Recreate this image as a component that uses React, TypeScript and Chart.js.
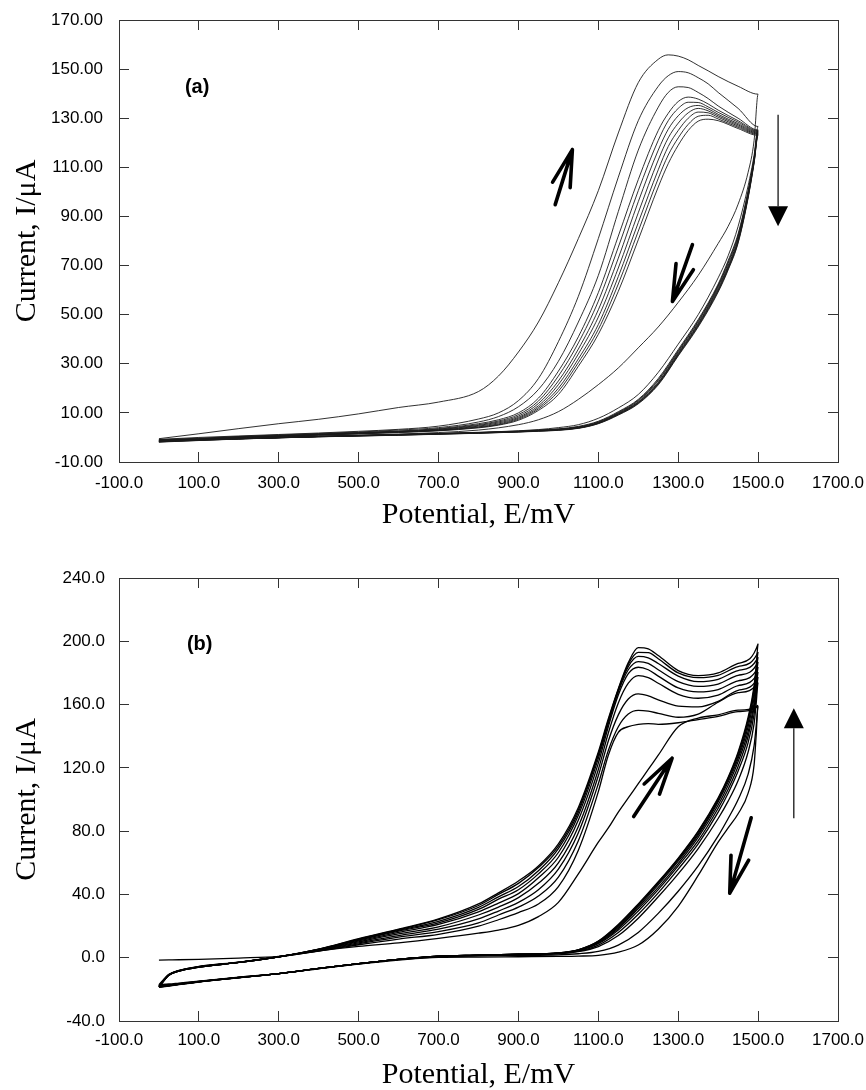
import { useEffect, useRef } from 'react';
import { Chart, registerables } from 'chart.js';

Chart.register(...registerables);

// ---------------- axis ticks ----------------
const xTickValues = [-100, 100, 300, 500, 700, 900, 1100, 1300, 1500, 1700];
const yTickValuesA = [-10, 10, 30, 50, 70, 90, 110, 130, 150, 170];
const yTickValuesB = [-40, 0, 40, 80, 120, 160, 200, 240];

// ---------------- panel (a) ----------------
const forwardPotentialA = [0, 100, 200, 300, 400, 500, 600, 700, 800, 850, 900, 950, 1000, 1050, 1100, 1150, 1200, 1250, 1275, 1300, 1325, 1350, 1375, 1400, 1450, 1500];
const reversePotentialA = [1490, 1475, 1450, 1425, 1400, 1350, 1300, 1250, 1200, 1150, 1100, 1050, 1000, 950, 900, 800, 700, 600, 400, 200, 0];

const forwardCurrentA = [
  [-0.5, 1.5, 3.6, 5.6, 7.4, 9.6, 12.2, 14.4, 18.7, 25, 34.8, 47, 63, 81, 100.5, 124, 144.5, 154, 155.8, 155.3, 153.8, 151.5, 149.3, 147, 143, 139.8],
  [-0.8, 0, 0.6, 1.2, 1.8, 2.5, 3.3, 4.6, 7.5, 10, 15, 24, 39, 57.5, 81, 106, 129, 143, 147.3, 149, 148.5, 146.5, 144, 140.5, 134, 126.6],
  [-1, -0.3, 0.4, 1.0, 1.6, 2.2, 3.0, 4.0, 6.3, 8.5, 12.5, 19.5, 31, 47, 66, 92, 117, 134.5, 140.5, 142.8, 142.5, 140.5, 138, 135, 130, 125.2],
  [-1.2, -0.5, 0.3, 0.8, 1.4, 2.0, 2.6, 3.6, 5.6, 7.2, 10, 16, 27, 41, 59, 82, 105, 125, 132, 136.8, 138.6, 137.8, 135.8, 133.3, 129, 124.9],
  [-1.3, -0.6, 0.2, 0.7, 1.3, 1.9, 2.5, 3.4, 5.2, 6.7, 9.3, 14.8, 25, 38.5, 55.5, 77.5, 100.5, 121, 129, 134, 136.5, 136.4, 134.6, 132.4, 128.4, 124.6],
  [-1.4, -0.7, 0.1, 0.6, 1.2, 1.8, 2.4, 3.2, 4.9, 6.3, 8.7, 13.8, 23, 36, 52, 73, 96, 117, 125.5, 131, 134.3, 135.2, 133.8, 131.6, 127.8, 124.3],
  [-1.5, -0.8, 0.1, 0.5, 1.1, 1.7, 2.3, 3.0, 4.6, 5.9, 8.2, 12.9, 21.5, 34, 49, 69, 91.5, 113, 122, 128, 132.2, 134, 133, 131, 127.3, 124],
  [-1.6, -0.8, 0, 0.4, 1.0, 1.6, 2.2, 2.9, 4.3, 5.5, 7.8, 12.2, 20, 32, 46, 65.5, 87.5, 109, 118.5, 125, 130, 132.5, 132.2, 130.4, 126.8, 123.7],
  [-1.7, -0.9, 0, 0.4, 1.0, 1.5, 2.1, 2.8, 4.1, 5.2, 7.4, 11.6, 18.8, 30.5, 44, 62.5, 84, 105.5, 115, 122, 127.5, 130.8, 131.2, 129.7, 126.3, 123.4],
  [-1.8, -1.0, -0.1, 0.3, 0.9, 1.4, 2.0, 2.7, 3.9, 5.0, 7.0, 11, 17.5, 29, 42, 59.5, 80.5, 102, 111.5, 119, 125, 128.8, 129.6, 129, 125.8, 123],
];

const reverseCurrentA = [
  [121, 108, 95, 86, 79, 66, 55, 45, 36.5, 28.3, 21.5, 15.5, 10.5, 7.2, 5.2, 3.0, 2.0, 1.4, 0.4, -0.4, -0.8],
  [115, 102.5, 86, 74, 65, 50, 38, 26.5, 17.5, 12, 7.8, 5.2, 4, 3.2, 2.7, 2.1, 1.6, 1.2, 0.4, -0.5, -1.0],
  [114, 100.5, 83, 72, 62.5, 48, 35.8, 24, 15.5, 10.5, 6.6, 4.5, 3.5, 3.0, 2.6, 2.0, 1.6, 1.2, 0.4, -0.5, -1.2],
  [113.7, 100, 82.4, 71.4, 62, 47.5, 35.3, 23.5, 15.2, 10.2, 6.4, 4.3, 3.4, 2.9, 2.5, 1.95, 1.55, 1.15, 0.4, -0.5, -1.3],
  [113.4, 99.6, 81.8, 70.8, 61.6, 47.1, 35, 23.1, 14.9, 10, 6.2, 4.2, 3.3, 2.85, 2.45, 1.9, 1.5, 1.1, 0.4, -0.5, -1.4],
  [113, 99, 81, 70, 61, 46.5, 34.5, 22.5, 14.5, 9.8, 6, 4, 3.2, 2.8, 2.4, 1.9, 1.5, 1.1, 0.4, -0.5, -1.5],
  [112.7, 98.6, 80.5, 69.5, 60.5, 46.1, 34.1, 22.2, 14.3, 9.6, 5.9, 3.9, 3.1, 2.7, 2.35, 1.85, 1.45, 1.05, 0.35, -0.55, -1.6],
  [112.4, 98.2, 80, 69, 60, 45.7, 33.8, 21.9, 14.1, 9.5, 5.8, 3.85, 3.05, 2.65, 2.3, 1.8, 1.4, 1.0, 0.3, -0.6, -1.7],
  [112.1, 97.9, 79.6, 68.6, 59.6, 45.4, 33.5, 21.7, 13.9, 9.3, 5.7, 3.8, 3.0, 2.6, 2.25, 1.75, 1.35, 0.95, 0.3, -0.6, -1.8],
  [111.8, 97.5, 79.2, 68.2, 59.2, 45, 33.2, 21.4, 13.7, 9.1, 5.6, 3.7, 2.9, 2.5, 2.2, 1.7, 1.3, 0.9, 0.25, -0.65, -1.9],
];

// ---------------- panel (b) ----------------
const forwardPotentialB = [0, 25, 50, 100, 200, 300, 400, 500, 600, 700, 800, 850, 900, 950, 1000, 1050, 1100, 1125, 1150, 1175, 1200, 1225, 1250, 1300, 1350, 1400, 1450, 1500];
const reversePotentialB = [1495, 1490, 1475, 1450, 1425, 1400, 1350, 1300, 1250, 1200, 1150, 1100, 1050, 1000, 900, 800, 700, 600, 500, 400, 300, 200, 100, 50, 25, 0];

const forwardCurrentB = [
  [-1.5, -1.4, -1.3, -1.0, -0.2, 0.9, 4.4, 7.2, 9.4, 12.2, 15.5, 17.5, 20.5, 26, 35, 53, 73, 82, 92, 101, 110, 119, 128, 146, 151.5, 153.5, 156.5, 159.5],
  [-17, -10.5, -8, -5.5, -2.8, 0.5, 4.2, 8.2, 11.8, 14.8, 20, 24, 28.5, 34, 45, 68, 105, 128, 142.5, 146, 147.5, 148, 147.5, 148.5, 150.5, 152.5, 155.5, 159],
  [-17.5, -10.7, -8.1, -5.6, -2.9, 0.5, 4.4, 8.8, 13, 16.5, 22, 27, 32, 39, 51, 74, 110, 131, 146, 154, 156.3, 155.8, 154.5, 152, 154, 161.5, 167.5, 174],
  [-17.8, -10.8, -8.2, -5.7, -2.9, 0.6, 4.6, 9.4, 14, 18, 24.5, 29.5, 35, 43, 56, 79, 115, 137, 153.5, 163.5, 166.8, 165.5, 163, 159, 158.5, 162, 169, 177.4],
  [-18, -10.8, -8.3, -5.8, -3, 0.6, 4.8, 10, 15, 19.5, 27, 32, 38, 47, 60, 83, 119, 142, 161, 173.5, 178.3, 177, 173.5, 166.5, 164, 166, 172, 180.6],
  [-18.2, -10.9, -8.3, -5.8, -3, 0.6, 5.0, 10.6, 16, 21, 29, 34.5, 40.5, 50.5, 63.5, 87, 123, 146, 166, 179.5, 183.6, 182, 178, 170.5, 168, 169.5, 175, 183.7],
  [-18.3, -10.9, -8.4, -5.9, -3, 0.6, 5.2, 11.1, 16.8, 22, 30.5, 37, 43, 53, 66.5, 90, 126, 148, 168, 182, 187.2, 186, 182, 174.5, 171.5, 173, 178.5, 187],
  [-18.4, -11, -8.4, -5.9, -3, 0.6, 5.3, 11.5, 17.3, 23, 31.8, 38.5, 45, 55, 69, 92, 128, 149, 169, 184, 190.4, 189.5, 186, 178, 174.5, 176, 181.5, 190],
  [-18.5, -11, -8.5, -6, -3, 0.5, 5.4, 11.8, 17.7, 24, 33, 40, 47, 57, 70.5, 93.5, 129, 150, 169.5, 185.5, 193, 192.8, 189, 180, 177, 178.5, 184, 193.2],
  [-18.6, -11, -8.5, -6, -3, 0.5, 5.5, 12, 18, 24.5, 34, 41, 48.5, 58, 72, 95, 130, 151, 170, 186.5, 196, 195.2, 191, 181.5, 178.3, 180, 186, 198.5],
];

const reverseCurrentB = [
  [140, 122, 104, 91, 82, 73, 52, 32.5, 18, 8, 3.5, 1.5, 1.0, 0.8, 0.6, 0.4, 0.2, -1.5, -4, -7, -10, -12.3, -14.8, -16, -16.6, -17],
  [146, 134, 116, 100, 88, 77, 58, 42, 28, 16, 8, 4, 2.5, 1.8, 1.4, 1.1, 0.6, -1.2, -3.9, -6.9, -10, -12.4, -15, -16.4, -17.1, -17.5],
  [160, 148, 130, 112, 99, 88, 69, 53, 38.5, 25, 14, 7, 3.8, 2.5, 1.9, 1.4, 0.8, -1.1, -3.8, -6.8, -10, -12.4, -15, -16.5, -17.3, -17.8],
  [165, 154, 136, 118, 104, 92, 72, 56, 41, 27.5, 16, 8, 4.2, 2.7, 2.0, 1.5, 0.9, -1.0, -3.8, -6.8, -10, -12.5, -15.1, -16.6, -17.4, -18],
  [168.5, 158, 140, 121, 106.5, 94.5, 74, 58, 43, 29.5, 17.5, 8.8, 4.5, 2.8, 2.1, 1.5, 0.9, -1.0, -3.8, -6.8, -10, -12.5, -15.1, -16.7, -17.5, -18.2],
  [172, 161, 143, 124, 109, 96.5, 76, 59.5, 44.5, 31, 18.5, 9.3, 4.7, 2.9, 2.1, 1.6, 1.0, -1.0, -3.8, -6.8, -10, -12.5, -15.2, -16.8, -17.6, -18.3],
  [175, 164.5, 146, 126, 111, 98.5, 77.5, 61, 46, 32, 19.3, 9.7, 4.8, 2.9, 2.2, 1.6, 1.0, -1.0, -3.8, -6.8, -10, -12.6, -15.2, -16.8, -17.6, -18.4],
  [178.5, 167.5, 148.5, 127.5, 112.5, 99.5, 78.5, 62, 47, 33, 20, 10, 4.9, 3.0, 2.2, 1.6, 1.0, -1.0, -3.8, -6.8, -10, -12.6, -15.3, -16.9, -17.7, -18.5],
  [181.5, 170, 150.5, 129, 113.5, 100.5, 79.5, 62.5, 47.5, 33.5, 20.5, 10.3, 5.0, 3.0, 2.2, 1.6, 1.0, -1.0, -3.8, -6.8, -10, -12.6, -15.3, -16.9, -17.8, -18.6],
  [184, 172, 152, 130, 114, 101, 80, 63, 48, 34, 21, 10.5, 5, 3, 2.2, 1.6, 1.0, -1.0, -3.8, -6.8, -10, -12.7, -15.4, -17, -17.9, -18.8],
];

// ---------------- annotations (data units) ----------------
const panelLabelA = { text: '(a)', x: 65, y: 142.4 };
const slantArrowsA = [
  { fromX: 992, fromY: 94.8, toX: 1035, toY: 117.2 },
  { fromX: 1335.6, fromY: 78.5, toX: 1285.5, toY: 55.4 },
];
const longArrowA = { x: 1550, fromY: 131.4, toY: 86 };

const panelLabelB = { text: '(b)', x: 70, y: 197.7 };
const slantArrowsB = [
  { fromX: 1188.5, fromY: 89.2, toX: 1284.7, toY: 126.1 },
  { fromX: 1482.7, fromY: 88.4, toX: 1429, toY: 40.8 },
];
const longArrowB = { x: 1589.4, fromY: 88.2, toY: 157.7 };

// ---------------- styling ----------------
const TICK_FONT = { family: "'Liberation Sans', Arial, Helvetica, sans-serif", size: 17 };
const TITLE_FONT = { family: "'Liberation Serif', 'Times New Roman', serif", size: 30 };
const AXIS_COLOR = '#333';

type Pt = { x: number; y: number };

function cyclePoints(fE: number[], fI: number[], rE: number[], rI: number[]): Pt[] {
  const pts: Pt[] = [];
  fE.forEach((e, i) => pts.push({ x: e, y: fI[i] }));
  rE.forEach((e, i) => pts.push({ x: e, y: rI[i] }));
  return pts;
}

function setTicks(values: number[]) {
  return (scale: any) => {
    scale.ticks = values.map((v) => ({ value: v }));
  };
}

function clearPadding(s: any) {
  s.paddingTop = 0;
  s.paddingBottom = 0;
  s.paddingLeft = 0;
  s.paddingRight = 0;
}

interface PanelCfg {
  key: string;
  fwdE: number[];
  revE: number[];
  fwd: number[][];
  rev: number[][];
  yMin: number;
  yMax: number;
  yTicks: number[];
  yDecimals: number;
  lineWidth: number;
  lineColor: string;
  padTop: number;
  xAxisHeight: number;
  xLabelPad: number;
  xTitlePadBottom: number;
  yLabelPad: number;
  label: { text: string; x: number; y: number };
  arrows: { fromX: number; fromY: number; toX: number; toY: number }[];
  longArrow: { x: number; fromY: number; toY: number };
}

function makeAnnotationPlugin(panel: PanelCfg) {
  return {
    id: 'cvAnnotations' + panel.key,
    afterDatasetsDraw(chart: any) {
      const ctx: CanvasRenderingContext2D = chart.ctx;
      const xs = chart.scales.x;
      const ys = chart.scales.y;
      const px = (v: number) => xs.getPixelForValue(v);
      const py = (v: number) => ys.getPixelForValue(v);
      ctx.save();
      ctx.fillStyle = '#000';
      ctx.font = "bold 20px 'Liberation Sans', Arial, sans-serif";
      ctx.textAlign = 'left';
      ctx.textBaseline = 'middle';
      ctx.fillText(panel.label.text, px(panel.label.x), py(panel.label.y));

      const headLen = 38;
      const headAng = (14 * Math.PI) / 180;
      ctx.strokeStyle = '#000';
      ctx.lineWidth = 3.6;
      ctx.lineCap = 'round';
      ctx.lineJoin = 'round';
      for (const a of panel.arrows) {
        const x1 = px(a.fromX), y1 = py(a.fromY), x2 = px(a.toX), y2 = py(a.toY);
        const ang = Math.atan2(y1 - y2, x1 - x2);
        ctx.beginPath();
        ctx.moveTo(x1, y1);
        ctx.lineTo(x2, y2);
        ctx.moveTo(x2 + headLen * Math.cos(ang + headAng), y2 + headLen * Math.sin(ang + headAng));
        ctx.lineTo(x2, y2);
        ctx.lineTo(x2 + headLen * Math.cos(ang - headAng), y2 + headLen * Math.sin(ang - headAng));
        ctx.stroke();
      }

      const la = panel.longArrow;
      const lx = px(la.x), ly1 = py(la.fromY), ly2 = py(la.toY);
      const dir = ly2 > ly1 ? 1 : -1;
      const headH = 20;
      const headW = 10;
      ctx.lineWidth = 1.2;
      ctx.lineCap = 'butt';
      ctx.beginPath();
      ctx.moveTo(lx, ly1);
      ctx.lineTo(lx, ly2 - dir * headH);
      ctx.stroke();
      ctx.beginPath();
      ctx.moveTo(lx, ly2);
      ctx.lineTo(lx - headW, ly2 - dir * headH);
      ctx.lineTo(lx + headW, ly2 - dir * headH);
      ctx.closePath();
      ctx.fill();
      ctx.restore();
    },
  };
}

function buildConfig(panel: PanelCfg): any {
  const datasets = panel.fwd.map((f, i) => ({
    label: `Cycle ${i + 1}`,
    data: cyclePoints(panel.fwdE, f, panel.revE, panel.rev[i]),
    showLine: true,
    pointRadius: 0,
    pointHoverRadius: 0,
    borderColor: panel.lineColor,
    borderWidth: panel.lineWidth,
    fill: false,
    cubicInterpolationMode: 'monotone',
    xAxisID: 'x',
    yAxisID: 'y',
  }));
  const grid = { drawOnChartArea: false, tickLength: -10, color: AXIS_COLOR, lineWidth: 1 };
  const border = { display: true, color: AXIS_COLOR, width: 1 };
  return {
    type: 'scatter',
    data: { datasets },
    options: {
      responsive: false,
      animation: false,
      events: [],
      layout: { padding: { top: panel.padTop, right: 28, bottom: 0, left: 0 }, autoPadding: false },
      plugins: { legend: { display: false }, tooltip: { enabled: false } },
      scales: {
        x: {
          type: 'linear',
          position: 'bottom',
          min: -100,
          max: 1700,
          afterBuildTicks: setTicks(xTickValues),
          ticks: {
            callback: (v: number) => Number(v).toFixed(1),
            font: TICK_FONT,
            color: '#000',
            padding: panel.xLabelPad,
            maxRotation: 0,
            minRotation: 0,
            autoSkip: false,
          },
          grid,
          border,
          title: {
            display: true,
            text: 'Potential, E/mV',
            color: '#000',
            font: { ...TITLE_FONT, lineHeight: 0.8 },
            padding: { top: 0, bottom: panel.xTitlePadBottom },
          },
          afterFit: (s: any) => {
            s.height = panel.xAxisHeight;
            clearPadding(s);
          },
        },
        x2: {
          type: 'linear',
          position: 'top',
          min: -100,
          max: 1700,
          afterBuildTicks: setTicks(xTickValues),
          ticks: { display: false },
          grid,
          border,
          afterFit: (s: any) => {
            s.height = 0;
            clearPadding(s);
          },
        },
        y: {
          type: 'linear',
          position: 'left',
          min: panel.yMin,
          max: panel.yMax,
          afterBuildTicks: setTicks(panel.yTicks),
          ticks: {
            callback: (v: number) => Number(v).toFixed(panel.yDecimals),
            font: TICK_FONT,
            color: '#000',
            padding: panel.yLabelPad,
            autoSkip: false,
          },
          grid,
          border,
          title: {
            display: true,
            text: 'Current, I/\u03bcA',
            color: '#000',
            font: TITLE_FONT,
            padding: { top: 9, bottom: 0 },
          },
          afterFit: (s: any) => {
            s.width = 119;
            clearPadding(s);
          },
        },
        y2: {
          type: 'linear',
          position: 'right',
          min: panel.yMin,
          max: panel.yMax,
          afterBuildTicks: setTicks(panel.yTicks),
          ticks: { display: false },
          grid,
          border,
          afterFit: (s: any) => {
            s.width = 0;
            clearPadding(s);
          },
        },
      },
    },
    plugins: [makeAnnotationPlugin(panel)],
  };
}

const panelA: PanelCfg = {
  key: 'A',
  fwdE: forwardPotentialA,
  revE: reversePotentialA,
  fwd: forwardCurrentA,
  rev: reverseCurrentA,
  yMin: -10,
  yMax: 170,
  yTicks: yTickValuesA,
  yDecimals: 2,
  lineWidth: 0.9,
  lineColor: '#1a1a1a',
  padTop: 20,
  xAxisHeight: 83,
  xLabelPad: 21,
  xTitlePadBottom: 18,
  yLabelPad: 26,
  label: panelLabelA,
  arrows: slantArrowsA,
  longArrow: longArrowA,
};

const panelB: PanelCfg = {
  key: 'B',
  fwdE: forwardPotentialB,
  revE: reversePotentialB,
  fwd: forwardCurrentB,
  rev: reverseCurrentB,
  yMin: -40,
  yMax: 240,
  yTicks: yTickValuesB,
  yDecimals: 1,
  lineWidth: 1.3,
  lineColor: '#000',
  padTop: 33,
  xAxisHeight: 69,
  xLabelPad: 19,
  xTitlePadBottom: 3,
  yLabelPad: 24,
  label: panelLabelB,
  arrows: slantArrowsB,
  longArrow: longArrowB,
};

function CVPanel({ panel, top }: { panel: PanelCfg; top: number }) {
  const ref = useRef<HTMLCanvasElement>(null);
  useEffect(() => {
    if (!ref.current) return;
    const chart = new Chart(ref.current, buildConfig(panel));
    return () => chart.destroy();
  }, [panel]);
  return (
    <canvas
      ref={ref}
      width={866}
      height={545}
      style={{ position: 'absolute', left: 0, top, width: 866, height: 545 }}
    />
  );
}

export default function App() {
  return (
    <div style={{ position: 'absolute', left: 0, top: 0, width: 866, height: 1090, background: '#fff', overflow: 'hidden' }}>
      <CVPanel panel={panelA} top={0} />
      <CVPanel panel={panelB} top={545} />
    </div>
  );
}
